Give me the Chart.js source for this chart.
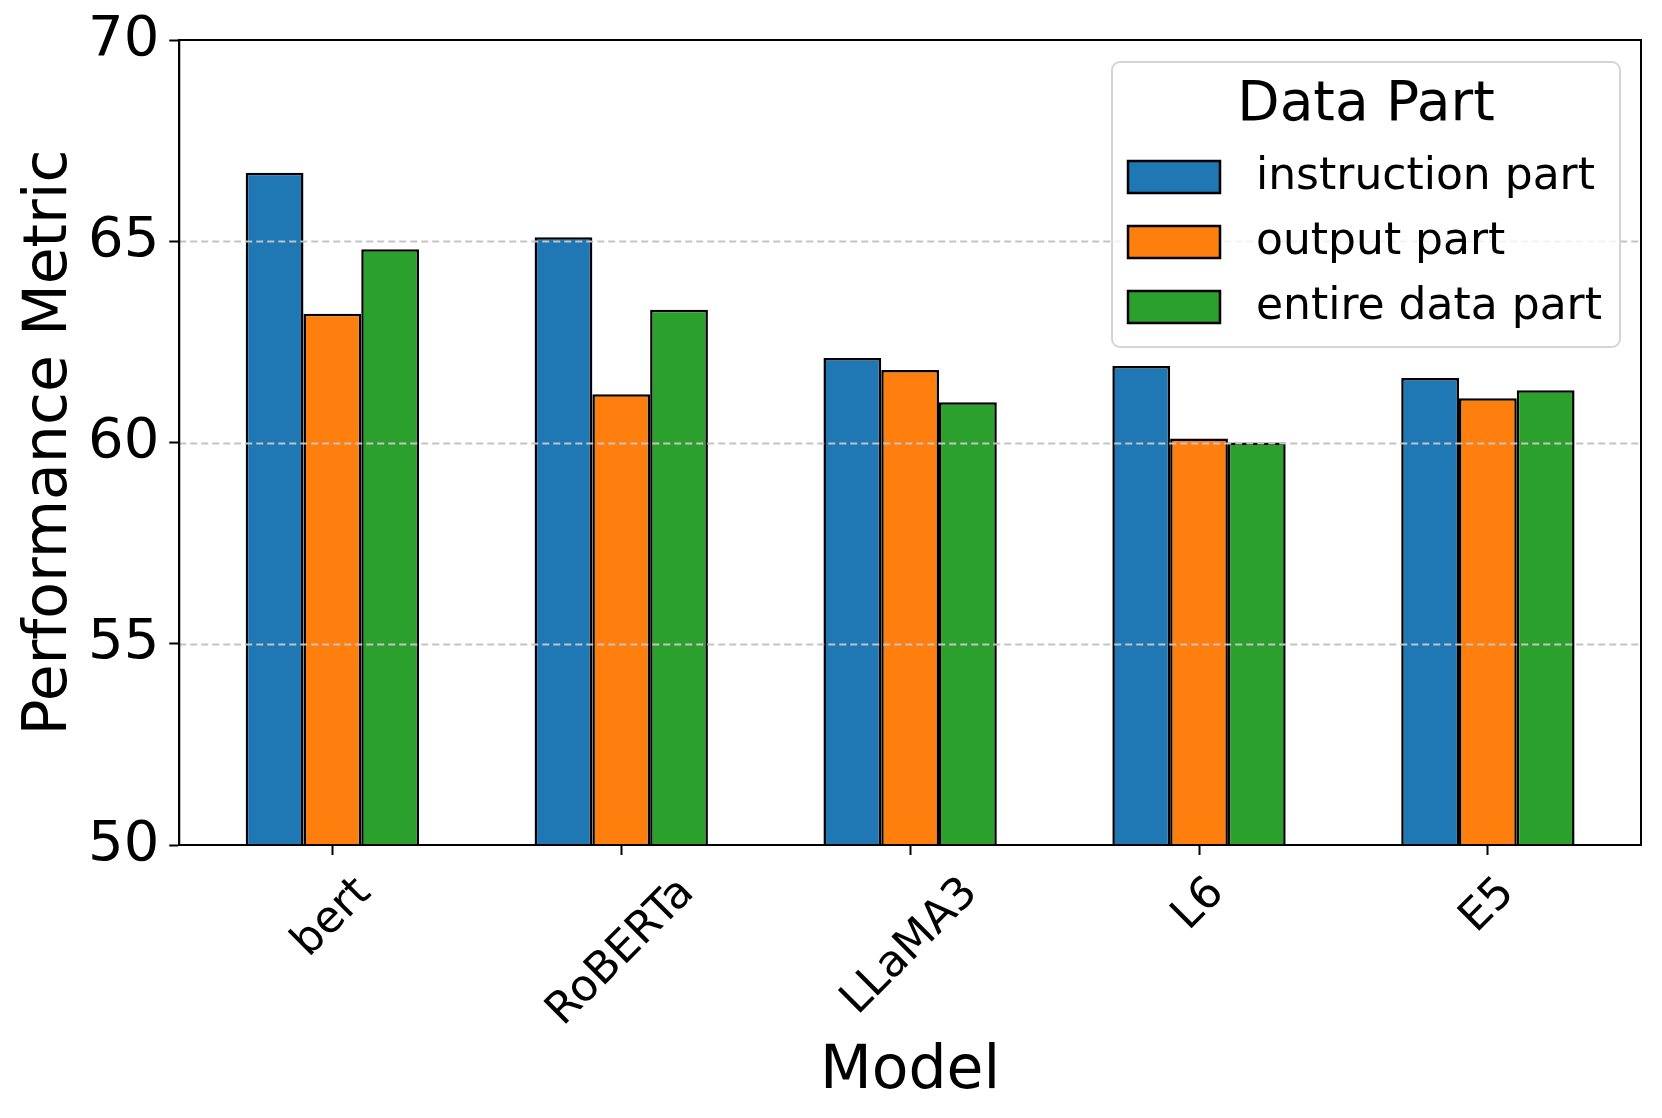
<!DOCTYPE html>
<html>
<head>
<meta charset="utf-8">
<script src="https://cdn.jsdelivr.net/npm/chart.js@4.4.1/dist/chart.umd.min.js"></script>
<style>
    html, body { margin: 0; padding: 0; background: #fff; }
    canvas { display: block; }
</style>
</head>
<body>
<canvas id="chart" width="1662" height="1118"></canvas>
<script>
// ---------- DATA ----------
const models = ["bert", "RoBERTa", "LLaMA3", "L6", "E5"];
const instructionPart = [66.7, 65.1, 62.1, 61.9, 61.6];
const outputPart = [63.2, 61.2, 61.8, 60.1, 61.1];
const entirePart = [64.8, 63.3, 61.0, 60.0, 61.3];
const seriesNames = ["instruction part", "output part", "entire data part"];
const yTicks = [50, 55, 60, 65, 70];

const colors = ["#1f77b4", "#ff7f0e", "#2ca02c"];
const FONT = "DejaVu Sans";

// ---------- OVERLAY: grid over bars, frame, x labels, legend ----------
const overlay = {
    id: "overlay",
    afterDatasetsDraw(chart) {
        const { ctx, chartArea: a, scales: { y } } = chart;
        ctx.save();

        // dashed grid lines (matplotlib draws them above the bars)
        ctx.strokeStyle = "#c4c4c4";
        ctx.lineWidth = 1.8;
        ctx.setLineDash([7, 4]);
        y.ticks.forEach(t => {
            if (t.value <= y.min || t.value >= y.max) return;
            const py = Math.round(y.getPixelForValue(t.value)) + 0.5;
            ctx.beginPath();
            ctx.moveTo(a.left, py);
            ctx.lineTo(a.right, py);
            ctx.stroke();
        });

        // frame
        ctx.setLineDash([]);
        ctx.strokeStyle = "#000";
        ctx.lineWidth = 2;
        ctx.strokeRect(a.left, a.top, a.width, a.height);
        ctx.restore();
    },
    afterDraw(chart) {
        const { ctx, chartArea: a, scales: { x } } = chart;
        ctx.save();
        ctx.fillStyle = "#000";

        // rotated x labels, centred under the tick like matplotlib
        ctx.font = "44px '" + FONT + "'";
        const top = a.bottom + 23;
        const h = 44 * 1.164;
        models.forEach((m, i) => {
            const px = x.getPixelForValue(i);
            const w = ctx.measureText(m).width;
            const half = (w + h) * 0.3536;
            ctx.save();
            ctx.translate(px, top + half);
            ctx.rotate(-Math.PI / 4);
            ctx.textAlign = "center";
            ctx.textBaseline = "middle";
            ctx.fillText(m, 0, 0);
            ctx.restore();
        });

        // x axis title
        ctx.font = "60px '" + FONT + "'";
        ctx.textAlign = "center";
        ctx.textBaseline = "middle";
        ctx.fillText("Model", (a.left + a.right) / 2, a.bottom + 227);

        // legend
        const bx = a.right - 529, by = a.top + 22, bw = 508, bh = 285;
        ctx.fillStyle = "rgba(255,255,255,0.8)";
        ctx.strokeStyle = "#d4d4d4";
        ctx.lineWidth = 2;
        ctx.beginPath();
        ctx.roundRect(bx, by, bw, bh, 8);
        ctx.fill();
        ctx.stroke();

        ctx.fillStyle = "#000";
        ctx.font = "55px '" + FONT + "'";
        ctx.fillText("Data Part", bx + bw / 2, by + 44);

        ctx.font = "44px '" + FONT + "'";
        ctx.textAlign = "left";
        chart.data.datasets.forEach((ds, i) => {
            const cy = by + 115 + i * 65;
            ctx.fillStyle = ds.backgroundColor;
            ctx.fillRect(bx + 16, cy - 16, 92, 32);
            ctx.strokeStyle = "#000";
            ctx.lineWidth = 2.5;
            ctx.strokeRect(bx + 16, cy - 16, 92, 32);
            ctx.fillStyle = "#000";
            ctx.fillText(ds.label, bx + 144, cy + 1);
        });
        ctx.restore();
    }
};

// ---------- CHART ----------
const ctx = document.getElementById("chart").getContext("2d");
const seriesValues = [instructionPart, outputPart, entirePart];

new Chart(ctx, {
    type: "bar",
    data: {
        labels: models,
        datasets: seriesValues.map((vals, i) => ({
            label: seriesNames[i],
            data: vals,
            backgroundColor: colors[i],
            borderColor: "#000",
            borderWidth: 2.5,
            borderSkipped: "start",
            categoryPercentage: 0.6,
            barPercentage: 1.0
        }))
    },
    options: {
        responsive: false,
        animation: false,
        devicePixelRatio: 1,
        layout: {
            padding: { left: 11, right: 21, top: 40, bottom: 263 }
        },
        plugins: {
            legend: { display: false },
            tooltip: { enabled: false }
        },
        scales: {
            x: {
                offset: true,
                // matplotlib-like margins: a bit wider than Chart.js's half category
                afterBuildTicks: scale => {
                    scale._startValue = -0.53;
                    scale._valueRange = models.length + 0.06;
                },
                ticks: { display: false },
                grid: {
                    display: true,
                    drawOnChartArea: false,
                    drawTicks: true,
                    tickLength: 10,
                    tickWidth: 2,
                    tickColor: "#000",
                    offset: false
                },
                border: { display: true, color: "#000", width: 2 }
            },
            y: {
                min: 50,
                max: 70,
                afterBuildTicks: scale => {
                    scale.ticks = yTicks.map(v => ({ value: v }));
                },
                ticks: {
                    color: "#000",
                    padding: 10,
                    font: { family: FONT, size: 56, lineHeight: 1.0 }
                },
                grid: {
                    display: true,
                    drawOnChartArea: false,
                    drawTicks: true,
                    tickLength: 10,
                    tickWidth: 2,
                    tickColor: "#000"
                },
                border: { display: true, color: "#000", width: 2 },
                title: {
                    display: true,
                    text: "Performance Metric",
                    color: "#000",
                    padding: { top: 3, bottom: -8 },
                    font: { family: FONT, size: 60 }
                }
            }
        }
    },
    plugins: [overlay]
});
</script>
</body>
</html>
